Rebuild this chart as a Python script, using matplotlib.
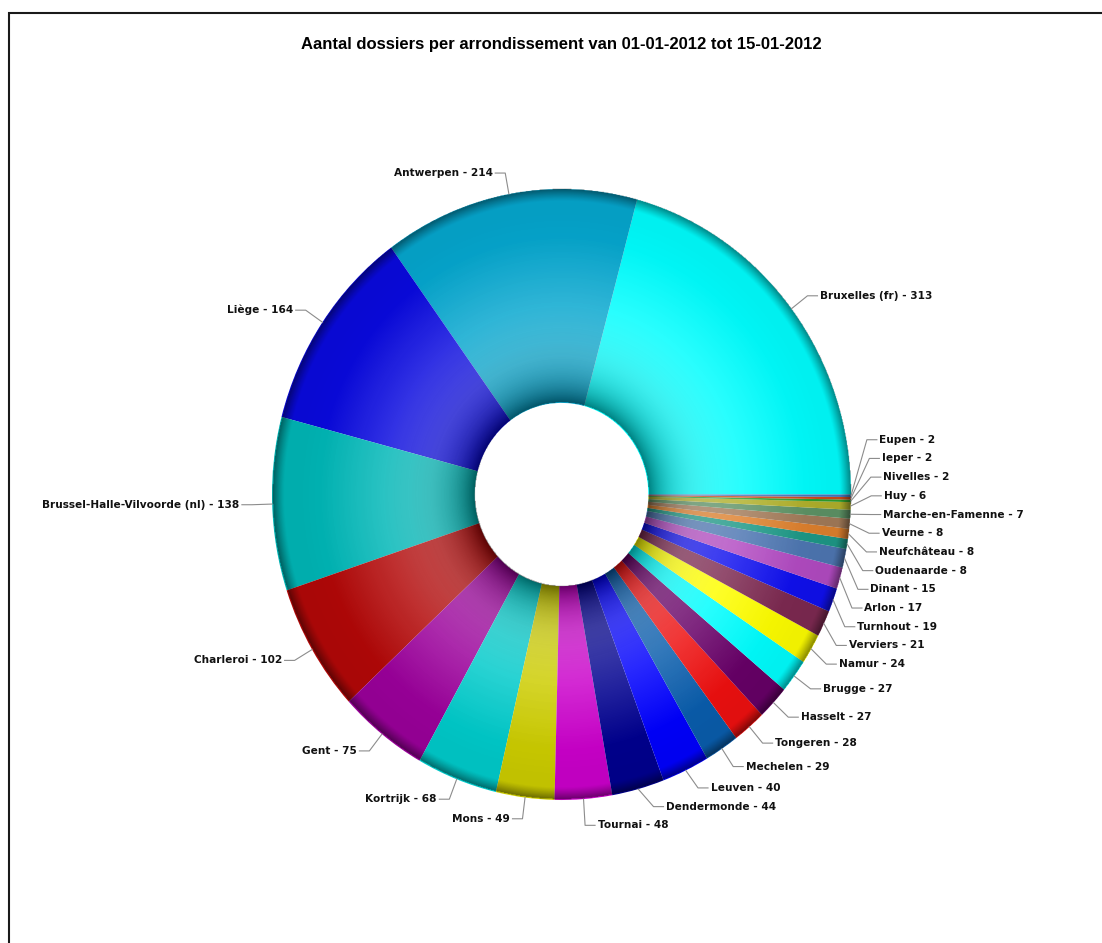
import numpy as np
import matplotlib
matplotlib.use("Agg")
import matplotlib.pyplot as plt
from matplotlib.patches import Rectangle

# Data (counterclockwise from 3 o'clock)
districts = [
    "Bruxelles (fr)", "Antwerpen", "Liège", "Brussel-Halle-Vilvoorde (nl)",
    "Charleroi", "Gent", "Kortrijk", "Mons", "Tournai", "Dendermonde",
    "Leuven", "Mechelen", "Tongeren", "Hasselt", "Brugge", "Namur",
    "Verviers", "Turnhout", "Arlon", "Dinant", "Oudenaarde", "Neufchâteau",
    "Veurne", "Marche-en-Famenne", "Huy", "Nivelles", "Ieper", "Eupen",
]
counts = [313, 214, 164, 138, 102, 75, 68, 49, 48, 44, 40, 29, 28, 27,
          27, 24, 21, 19, 17, 15, 8, 8, 8, 7, 6, 2, 2, 2]
colors = [
    "#00FFFF", "#06A8D0", "#0A0AE0", "#00B8B8", "#B40808", "#9C009C",
    "#00CCCC", "#CECE00", "#CC00CC", "#000090", "#0000FF", "#0A5EAE",
    "#F01010", "#680068", "#00FFFF", "#FFFF00", "#7E2A52", "#1010F0",
    "#B44CC4", "#4F78B4", "#1E9A88", "#E0822E", "#A47C5A", "#5E9466",
    "#B2B22C", "#2EA02E", "#D24A1A", "#4A78C0",
]
title = "Aantal dossiers per arrondissement van 01-01-2012 tot 15-01-2012"

# ==========================
# Figure / axes geometry
# ==========================
W, H = 1102, 943
fig = plt.figure(figsize=(W / 100, H / 100), dpi=100)

cx, cy = 561.5, 494.5      # donut centre in pixels
rx, ry = 289.5, 305.5      # pixels per data unit
xl, yl = 1.8, 1.45
ax = fig.add_axes([(cx - xl * rx) / W, (H - cy - yl * ry) / H,
                   2 * xl * rx / W, 2 * yl * ry / H])

wedges, _ = ax.pie(counts, colors=colors, startangle=0, counterclock=True,
                   radius=1.0,
                   wedgeprops=dict(width=0.7, linewidth=0, antialiased=True))

# ==========================
# 3D-ish shading overlay
# ==========================
n = 800
g = np.linspace(-1.0, 1.0, n)
gx, gy = np.meshgrid(g, g)
r = np.hypot(gx, gy)
ring = ((r >= 0.3) & (r <= 0.998)).astype(float)

inner = np.exp(-np.clip(r - 0.3, 0, None) / 0.075)
dark = (0.5 * inner
        + 0.06 * np.clip((r - 0.62) / 0.3, 0, 1)
        + 0.42 * np.clip((r - 0.958) / 0.04, 0, 1) ** 1.2)
dark = np.clip(dark, 0, 0.85) * ring
light = 0.3 * np.clip((0.85 - r) / 0.4, 0, 1) * (1 - inner) * ring

white = np.ones((n, n, 4))
white[..., 3] = light
black = np.zeros((n, n, 4))
black[..., 3] = dark
for layer in (white, black):
    ax.imshow(layer, origin="lower", extent=(-1, 1, -1, 1), aspect="auto",
              interpolation="bilinear", zorder=3)

ax.set_aspect("auto")
ax.set_xlim(-xl, xl)
ax.set_ylim(-yl, yl)
ax.axis("off")

# ==========================
# Labels with leader lines
# ==========================
counts_arr = np.array(counts, dtype=float)
tot = counts_arr.sum()
mid = 2 * np.pi * (np.cumsum(counts_arr) - counts_arr / 2) / tot
ka = 1.07
nx = ka * np.cos(mid)
ny = ka * np.sin(mid)
side = np.where(np.cos(mid) >= 0, 1, -1)
gap = 18.7 / ry


def spread(ys, gap):
    # ys sorted top to bottom, keep min gap with least total shift
    groups = []
    for y in ys:
        groups.append([y])
        while len(groups) > 1:
            a, b = groups[-2], groups[-1]
            bot_a = np.mean(a) - gap * (len(a) - 1) / 2
            top_b = np.mean(b) + gap * (len(b) - 1) / 2
            if bot_a - top_b < gap:
                groups[-2:] = [a + b]
            else:
                break
    out = []
    for grp in groups:
        c, k = np.mean(grp), len(grp)
        out += [c + gap * ((k - 1) / 2 - j) for j in range(k)]
    return out


label_y = np.array(ny)
for s in (1, -1):
    idx = [i for i in np.argsort(-ny) if side[i] == s]
    for i, y in zip(idx, spread([ny[i] for i in idx], gap)):
        label_y[i] = y

hseg = 10 / rx
pad = 2.5 / rx
for i, name in enumerate(districts):
    ly = label_y[i]
    if abs(ly) < ka:
        bx = side[i] * ka * np.sqrt(1 - (ly / ka) ** 2)
    else:
        bx = nx[i]
    ex, ey = np.cos(mid[i]), np.sin(mid[i])
    ax.plot([ex, bx, bx + side[i] * hseg], [ey, ly, ly],
            color="#8c8c8c", lw=0.8, zorder=4, clip_on=False)
    ax.text(bx + side[i] * (hseg + pad), ly, f"{name} - {counts[i]}",
            ha="left" if side[i] > 0 else "right", va="center",
            fontsize=7.6, fontweight="bold", color="#111111",
            family="DejaVu Sans", clip_on=False)

# ==========================
# Title and frame
# ==========================
fig.text(cx / W, 1 - 45 / H, title, ha="center", va="center",
         fontsize=12, fontweight="bold", family="Liberation Sans")

fig.add_artist(Rectangle((8.8 / W, -0.1), 1.2, 1.1 - 13.5 / H,
                         transform=fig.transFigure, fill=False,
                         lw=1.5, ec="#1a1a1a"))

fig.savefig("out.png", dpi=100, facecolor="white")
